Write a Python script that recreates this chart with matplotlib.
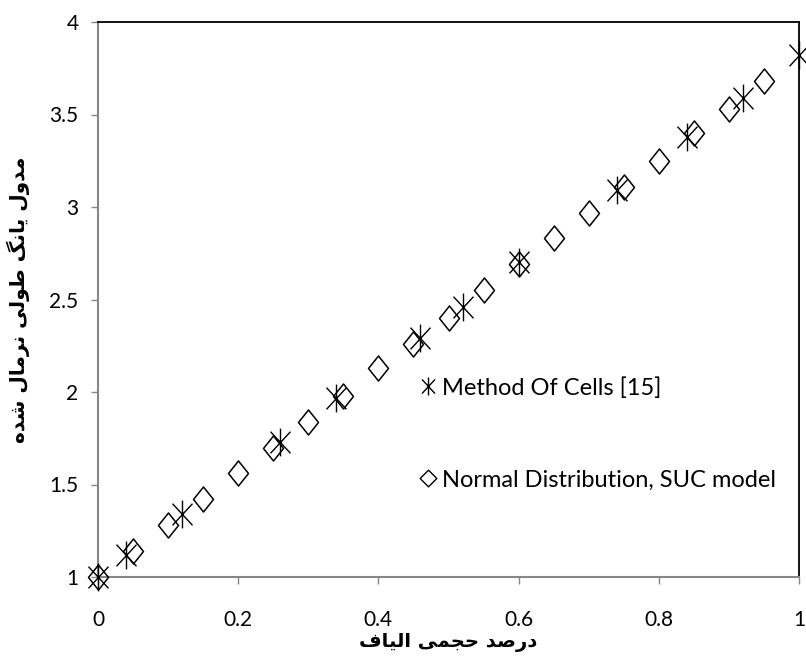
import matplotlib
matplotlib.use("Agg")
import matplotlib.pyplot as plt
from matplotlib.path import Path
from matplotlib.lines import Line2D

# ---------------- data ----------------
moc_x = [0.0, 0.04, 0.12, 0.26, 0.34, 0.46, 0.52, 0.60, 0.74, 0.84, 0.92, 1.00]
moc_y = [1.00, 1.12, 1.34, 1.73, 1.97, 2.29, 2.46, 2.70, 3.09, 3.38, 3.59, 3.82]

nd_x = [0.00, 0.05, 0.10, 0.15, 0.20, 0.25, 0.30, 0.35, 0.40, 0.45,
        0.50, 0.55, 0.60, 0.65, 0.70, 0.75, 0.80, 0.85, 0.90, 0.95]
nd_y = [1.00, 1.14, 1.28, 1.42, 1.56, 1.70, 1.84, 1.98, 2.13, 2.26,
        2.40, 2.55, 2.69, 2.83, 2.97, 3.11, 3.25, 3.40, 3.53, 3.68]

moc_label = "Method Of Cells [15]"
nd_label = "Normal Distribution, SUC model"
xlabel_text = "درصد حجمی الیاف"
ylabel_text = "مدول یانگ طولی نرمال شده"

x_ticks = [0, 0.2, 0.4, 0.6, 0.8, 1]
x_ticklabels = ["0", "0.2", "0.4", "0.6", "0.8", "1"]
y_ticks = [1, 1.5, 2, 2.5, 3, 3.5, 4]
y_ticklabels = ["1", "1.5", "2", "2.5", "3", "3.5", "4"]

# ------------- Arabic/Persian shaping (presentation forms, visual order) -------------
FORMS = {  # isolated, final, initial, medial
    "ا": ("\uFE8D", "\uFE8E", None, None),
    "د": ("\uFEA9", "\uFEAA", None, None),
    "ر": ("\uFEAD", "\uFEAE", None, None),
    "و": ("\uFEED", "\uFEEE", None, None),
    "ص": ("\uFEB9", "\uFEBA", "\uFEBB", "\uFEBC"),
    "ح": ("\uFEA1", "\uFEA2", "\uFEA3", "\uFEA4"),
    "ج": ("\uFE9D", "\uFE9E", "\uFE9F", "\uFEA0"),
    "م": ("\uFEE1", "\uFEE2", "\uFEE3", "\uFEE4"),
    "ی": ("\uFBFC", "\uFBFD", "\uFBFE", "\uFBFF"),
    "ل": ("\uFEDD", "\uFEDE", "\uFEDF", "\uFEE0"),
    "ف": ("\uFED1", "\uFED2", "\uFED3", "\uFED4"),
    "ن": ("\uFEE5", "\uFEE6", "\uFEE7", "\uFEE8"),
    "گ": ("\uFB92", "\uFB93", "\uFB94", "\uFB95"),
    "ط": ("\uFEC1", "\uFEC2", "\uFEC3", "\uFEC4"),
    "ش": ("\uFEB5", "\uFEB6", "\uFEB7", "\uFEB8"),
    "ه": ("\uFEE9", "\uFEEA", "\uFEEB", "\uFEEC"),
}


def shape(text):
    out = []
    n = len(text)
    for i, ch in enumerate(text):
        if ch not in FORMS:
            out.append(ch)
            continue
        prev = text[i - 1] if i > 0 else None
        nxt = text[i + 1] if i < n - 1 else None
        join_prev = prev in FORMS and FORMS[prev][2] is not None
        join_next = nxt in FORMS and FORMS[ch][2] is not None
        iso, fin, ini, med = FORMS[ch]
        if join_prev and join_next:
            out.append(med)
        elif join_prev:
            out.append(fin)
        elif join_next:
            out.append(ini)
        else:
            out.append(iso)
    return "".join(out)[::-1]


# ---------------- markers ----------------
ast_path = Path(
    [(-0.72, -0.78), (0.72, 0.78), (-0.72, 0.78), (0.72, -0.78), (0, -1), (0, 1)],
    [Path.MOVETO, Path.LINETO, Path.MOVETO, Path.LINETO, Path.MOVETO, Path.LINETO],
)
dia_path = Path(
    [(0, 1), (0.8, 0), (0, -1), (-0.8, 0), (0, 1)],
    [Path.MOVETO, Path.LINETO, Path.LINETO, Path.LINETO, Path.CLOSEPOLY],
)
dia_sq = Path(
    [(0, 1), (1, 0), (0, -1), (-1, 0), (0, 1)],
    [Path.MOVETO, Path.LINETO, Path.LINETO, Path.LINETO, Path.CLOSEPOLY],
)

plt.rcParams["font.family"] = ["Lato", "DejaVu Sans"]

fig = plt.figure(figsize=(8.06, 6.63), dpi=100)
ax = fig.add_axes([98 / 806, 1 - 577 / 663, (799 - 98) / 806, (577 - 22) / 663])

ax.plot(nd_x, nd_y, linestyle="none", marker=dia_path, markersize=18,
        markerfacecolor="none", markeredgecolor="black", markeredgewidth=1.1,
        clip_on=False, zorder=3)
ax.plot(moc_x, moc_y, linestyle="none", marker=ast_path, markersize=20,
        markerfacecolor="none", markeredgecolor="black", markeredgewidth=1.0,
        clip_on=False, zorder=4)

ax.set_xlim(0, 1)
ax.set_ylim(1, 4)
ax.set_xticks(x_ticks)
ax.set_xticklabels(x_ticklabels)
ax.set_yticks(y_ticks)
ax.set_yticklabels(y_ticklabels)

gray = "#868686"
for s in ("left", "bottom"):
    ax.spines[s].set_color(gray)
    ax.spines[s].set_linewidth(1.5)
for s in ("top", "right"):
    ax.spines[s].set_color("black")
    ax.spines[s].set_linewidth(1.3)
ax.tick_params(axis="both", direction="out", length=5, width=1.0, color=gray,
               labelsize=15, labelcolor="black")
ax.tick_params(axis="x", pad=19)
ax.tick_params(axis="y", pad=9)

ax.set_xlabel(shape(xlabel_text), family="DejaVu Sans", fontweight="bold",
              fontsize=14, labelpad=2)
ax.set_ylabel(shape(ylabel_text), family="DejaVu Sans", fontweight="bold",
              fontsize=14.5, labelpad=14)

handles = [
    Line2D([], [], linestyle="none", marker=ast_path, markersize=13,
           markerfacecolor="none", markeredgecolor="black", markeredgewidth=1.0),
    Line2D([], [], linestyle="none", marker=dia_sq, markersize=12,
           markerfacecolor="none", markeredgecolor="black", markeredgewidth=1.0),
]
leg = ax.legend(handles, [moc_label, nd_label], loc="upper left",
                bbox_to_anchor=(421 / 806, 1 - 377 / 663), bbox_transform=fig.transFigure,
                frameon=False, fontsize=17, handlelength=0.6, handletextpad=0.3,
                labelspacing=3.0, borderaxespad=0, borderpad=0)

fig.savefig("out.png", dpi=100)
